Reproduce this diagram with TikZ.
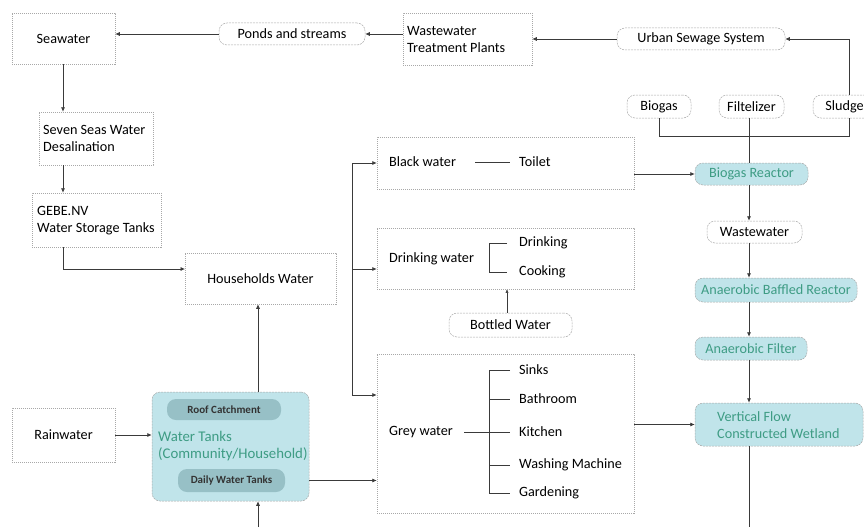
\documentclass[tikz,border=0pt]{standalone}
\usepackage{fontspec}
\setmainfont{Carlito}
\usetikzlibrary{arrows.meta}
\definecolor{tealbg}{HTML}{C0E4EA}
\definecolor{tealdk}{HTML}{97C0C6}
\definecolor{tealtxt}{HTML}{3E9C84}
\definecolor{bordr}{HTML}{A8A8A8}
\definecolor{ln}{HTML}{3A3A3A}
\begin{document}
\begin{tikzpicture}[x=1pt,y=-1pt,
  font=\fontsize{14.2}{17}\selectfont,
  sqbox/.style={draw=bordr, dash pattern=on 1.2pt off 0.8pt, line width=0.5pt, inner sep=0pt},
  pill/.style={draw=bordr, dash pattern=on 2pt off 1pt, line width=0.5pt, rounded corners=8pt, inner sep=0pt},
  tpill/.style={pill, fill=tealbg, text=tealtxt},
  dpill/.style={rounded corners=9pt, fill=tealdk, inner sep=0pt, font=\fontsize{11}{13}\selectfont\bfseries, text=black!80},
  txt/.style={anchor=west, inner sep=0pt, align=left},
  ttl/.style={txt, text=tealtxt},
  arr/.style={draw=ln, line width=0.7pt, -{Latex[length=4.5pt,width=4pt]}},
  con/.style={draw=ln, line width=0.7pt},
  thin/.style={draw=ln, line width=0.5pt}
]
\useasboundingbox (0,0) rectangle (864,527);

% square boxes
\node[sqbox, minimum width=103pt, minimum height=51pt] (sea) at (63.5,38.5) {Seawater};
\node[sqbox, minimum width=114pt, minimum height=53pt] (seven) at (96,138.5) {};
\node[txt] (sevenT) at (43,138.5) {Seven Seas Water\\Desalination};
\node[sqbox, minimum width=129pt, minimum height=54pt] (gebe) at (96.5,220) {};
\node[txt] (gebeT) at (37,220.5) {GEBE.NV\\Water Storage Tanks};
\node[sqbox, minimum width=151pt, minimum height=51pt] (house) at (260.5,278.5) {Households Water};
\node[sqbox, minimum width=103pt, minimum height=54pt] (rain) at (63.5,435) {Rainwater};
\node[sqbox, minimum width=129pt, minimum height=52pt] (wtp) at (467.5,39) {};
\node[txt] (wtpT) at (407,39) {Wastewater\\Treatment Plants};
\node[sqbox, minimum width=257pt, minimum height=52pt] (black) at (505.5,163) {};
\node[sqbox, minimum width=257pt, minimum height=61pt] (drink) at (505.5,258.5) {};
\node[sqbox, minimum width=257pt, minimum height=159pt] (grey) at (505.5,433.5) {};

% water tanks
\node[pill, fill=tealbg, minimum width=157pt, minimum height=109pt] (tanks) at (230.5,446.5) {};
\node[dpill, minimum width=114pt, minimum height=21pt] (roof) at (224,409.5) {Roof Catchment};
\node[dpill, minimum width=107pt, minimum height=23pt] (daily) at (231.5,480.5) {Daily Water Tanks};
\node[ttl, font=\fontsize{14.8}{17.5}\selectfont] (tanksT) at (158,446) {Water Tanks\\(Community/Household)};

% pills
\node[pill, minimum width=146pt, minimum height=22pt] (ponds) at (292,34) {Ponds and streams};
\node[pill, minimum width=168pt, minimum height=22pt] (urban) at (701,39) {Urban Sewage System};
\node[pill, minimum width=64pt, minimum height=23pt] (biogas) at (659,106.5) {Biogas};
\node[pill, minimum width=65pt, minimum height=23pt] (filt) at (751.5,106.5) {Filtelizer};
\node[pill, minimum width=63pt, minimum height=23pt] (sludge) at (844.5,106.5) {Sludge};
\node[pill, minimum width=95pt, minimum height=22pt] (ww) at (754.5,232) {Wastewater};
\node[pill, minimum width=123pt, minimum height=24pt] (bottled) at (510.5,325) {Bottled Water};

% teal process
\node[tpill, minimum width=113pt, minimum height=22pt] (reactor) at (751.5,174) {Biogas Reactor};
\node[tpill, minimum width=162pt, minimum height=24pt] (abr) at (776,290) {Anaerobic Baffled Reactor};
\node[tpill, minimum width=112pt, minimum height=23pt] (af) at (751,348.5) {Anaerobic Filter};
\node[tpill, minimum width=168pt, minimum height=43pt] (vfcw) at (779,424.5) {};
\node[ttl] (vfcwT) at (717,425) {Vertical Flow\\Constructed Wetland};

% contents of use boxes
\node[txt] (bwT) at (389,162) {Black water};
\node[txt] (toilet) at (519,162) {Toilet};
\draw[thin] (475,162) -- (510,162);
\node[txt] (dwT) at (389,259) {Drinking water};
\node[txt] (dDrink) at (519,243) {Drinking};
\node[txt] (dCook) at (519,272) {Cooking};
\draw[thin] (507,243) -- (489,243) -- (489,272) -- (507,272);
\node[txt] (gwT) at (389,432) {Grey water};
\node[txt] (gSinks) at (519,370) {Sinks};
\node[txt] (gBath) at (519,399) {Bathroom};
\node[txt] (gKit) at (519,432) {Kitchen};
\node[txt] (gWash) at (519,465) {Washing Machine};
\node[txt] (gGard) at (519,493) {Gardening};
\draw[thin] (510,370) -- (489,370) -- (489,493) -- (510,493);
\draw[thin] (489,399) -- (510,399);
\draw[thin] (464,432) -- (510,432);
\draw[thin] (489,465) -- (510,465);

% coordinates
\coordinate (t) at (749,0);
\coordinate (jn) at (849,136);
\coordinate (hin) at (185,269);
\coordinate (b1) at (352,163);
\coordinate (b2) at (352,269);
\coordinate (b3) at (352,395);
\coordinate (tx) at (258,0);
\coordinate (bot) at (258,527);
\coordinate (vend) at (749,527);
\coordinate (bw) at (507,0);

% top flow
\draw[arr] (ponds.west) -- (ponds.west -| sea.east);
\draw[arr] (wtp.west |- ponds.east) -- (ponds.east);
\draw[arr] (urban.west) -- (urban.west -| wtp.east);
\draw[arr] (sludge.north -| jn) |- (urban.east);
\draw[con] (biogas.south) |- (jn) -- (sludge.south -| jn);
\draw[con] (filt.south -| t) -- (reactor.north -| t);

% left chain
\draw[arr] (sea.south -| 63,0) -- (seven.north -| 63,0);
\draw[arr] (seven.south -| 63,0) -- (gebe.north -| 63,0);
\draw[arr] (gebe.south -| 63,0) |- (hin);
\draw[arr] (rain.east) -- (rain.east -| tanks.west);
\draw[arr] (tanks.north -| tx) -- (house.south -| tx);
\draw[arr] (bot) -- (tanks.south -| tx);
\draw[arr] (tanks.east |- daily) -- (grey.west |- daily);

% branch
\draw[con] (b1) -- (b3);
\draw[arr] (b1) -- (black.west |- b1);
\draw[arr] (b2) -- (drink.west |- b2);
\draw[arr] (b3) -- (grey.west |- b3);
\draw[thin, -{Latex[length=3.5pt,width=3pt]}] (bottled.north -| bw) -- (drink.south -| bw);

% right chain
\draw[arr] (black.east |- reactor.west) -- (reactor.west);
\draw[arr] (reactor.south -| t) -- (ww.north -| t);
\draw[arr] (ww.south -| t) -- (abr.north -| t);
\draw[arr] (abr.south -| t) -- (af.north -| t);
\draw[arr] (af.south -| t) -- (vfcw.north -| t);
\draw[arr] (grey.east |- vfcw.west) -- (vfcw.west);
\draw[con] (vfcw.south -| t) -- (vend);
\end{tikzpicture}
\end{document}
